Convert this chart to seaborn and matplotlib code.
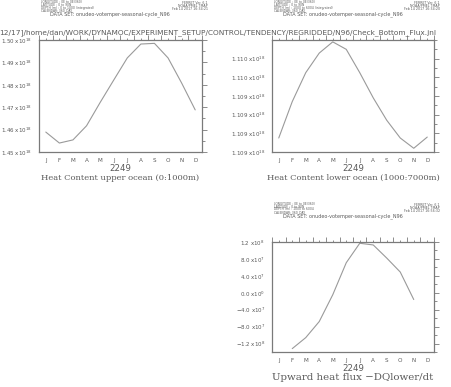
import numpy as np
import pandas as pd
import matplotlib
matplotlib.use("Agg")
import matplotlib.pyplot as plt
import matplotlib.ticker as mticker
import seaborn as sns

# ---------------- data ----------------
months = ["J", "F", "M", "A", "M", "J", "J", "A", "S", "O", "N", "D"]
month_index = list(range(1, 13))
year_label = "2249"

upper_heat = [1.4589e18, 1.4540e18, 1.4554e18, 1.4617e18, 1.4721e18, 1.4821e18,
              1.4920e18, 1.4982e18, 1.4985e18, 1.4920e18, 1.4808e18, 1.4688e18]
lower_heat = [1.10895e18, 1.10934e18, 1.10965e18, 1.10986e18, 1.10998e18, 1.10990e18,
              1.10965e18, 1.10938e18, 1.10914e18, 1.10895e18, 1.10884e18, 1.10896e18]
upward_flux = [np.nan, -1.32e8, -1.06e8, -6.8e7, -4.7e6, 7.1e7,
               1.17e8, 1.13e8, 8.2e7, 4.9e7, -1.6e7, np.nan]

titles = ["Heat Content upper ocean (0:1000m)",
          "Heat Content lower ocean (1000:7000m)",
          "Upward heat flux \u2212DQlower/dt"]
depth_lines = ["DEPTH (m) : 0 to 1000 (integrated)",
               "DEPTH (m) : 1000 to 6004 (integrated)",
               "DEPTH (m) : 1000 to 6004"]
stamps = ["Feb 14 2017 16:34:21", "Feb 14 2017 16:34:20", "Feb 14 2017 16:56:32"]
path_text = "12/17]/home/dan/WORK/DYNAMOC/EXPERIMENT_SETUP/CONTROL/TENDENCY/REGRIDDED/N96/Check_Bottom_Flux.jnl"
dataset_text = "DATA SET: onudeo-votemper-seasonal-cycle_N96"

# ---------------- style ----------------
sns.set_style("white")
plt.rcParams["font.family"] = ["DejaVu Sans"]
TXT = "#5a5a5a"
SPINE = "#7a7a7a"
LINE = "#9a9a9a"

W, H = 452, 387
fig = plt.figure(figsize=(W / 100, H / 100), dpi=100)


def fmt_factory(dec):
    def f(v, pos):
        if v == 0:
            return r"0.0 x10$^{0}$"
        e = int(np.floor(np.log10(abs(v)) + 1e-9))
        m = v / 10.0 ** e
        s = f"{abs(m):.{dec}f}"
        sign = "\u2212" if v < 0 else ""
        return f"{sign}{s} x10$^{{{e}}}$"
    return f


def make_axes(px_left, px_top, px_right, px_bottom):
    return fig.add_axes([px_left / W, 1 - px_bottom / H,
                         (px_right - px_left) / W, (px_bottom - px_top) / H])


panels = [
    dict(box=(39, 40, 202, 152), vals=upper_heat, ylim=(1.45e18, 1.50e18),
         major=np.arange(1.45, 1.5001, 0.01) * 1e18,
         minor=np.arange(1.445, 1.5001, 0.005) * 1e18, dec=2, tsize=6.0),
    dict(box=(272, 40, 434, 152), vals=lower_heat, ylim=(1.1088e18, 1.1100e18),
         major=np.array([1.1088, 1.1090, 1.1092, 1.1094, 1.1096, 1.1098]) * 1e18,
         minor=np.arange(1.1088, 1.11005, 0.0001) * 1e18, dec=3, tsize=6.0),
    dict(box=(272, 242, 434, 352), vals=upward_flux, ylim=(-1.4e8, 1.2e8),
         major=np.arange(-1.2e8, 1.21e8, 4e7),
         minor=np.arange(-1.4e8, 1.21e8, 2e7), dec=1, tsize=7.4),
]

for i, p in enumerate(panels):
    l, t, r, b = p["box"]
    ax = make_axes(l, t, r, b)
    df = pd.DataFrame({"month": month_index, "value": p["vals"]})
    sns.lineplot(data=df, x="month", y="value", ax=ax, color=LINE, lw=0.8)
    ax.set_xlim(0.5, 12.5)
    ax.set_ylim(*p["ylim"])
    ax.set_xticks(month_index)
    ax.set_xticklabels(months)
    ax.set_xticks(np.arange(0.5, 12.6, 1.0), minor=True)
    ax.yaxis.set_major_locator(mticker.FixedLocator(p["major"]))
    ax.yaxis.set_minor_locator(mticker.FixedLocator(p["minor"]))
    ax.yaxis.set_major_formatter(mticker.FuncFormatter(fmt_factory(p["dec"])))
    ax.set_xlabel(year_label, fontsize=6.2, color=TXT, labelpad=0.5)
    ax.set_ylabel("")
    ax.tick_params(axis="both", which="both", direction="out", colors=SPINE,
                   labelcolor=TXT, top=True, right=True, width=0.6)
    ax.tick_params(axis="x", which="major", length=1.8, labelsize=4.1, pad=2.5)
    ax.tick_params(axis="x", which="minor", length=3.5)
    ax.tick_params(axis="y", which="major", length=3.5, labelsize=4.0, pad=1.5)
    ax.tick_params(axis="y", which="minor", length=2.0)
    for sp in ax.spines.values():
        sp.set_color(SPINE)
        sp.set_linewidth(0.9)
    ax.grid(False)

    # title below the axes
    fig.text(((l + r) / 2) / W, 1 - (b + 26) / H, titles[i], ha="center", va="center",
             fontsize=p["tsize"], color=TXT, family="DejaVu Serif")

    # Ferret header block
    hx = (l + 2) / W
    for k, s in enumerate(["LONGITUDE : 0E to 0E(360)", "LATITUDE : 0 to 90N", depth_lines[i]]):
        fig.text(hx, 1 - (t - 38.3 + 2.9 * k) / H, s, ha="left", va="center",
                 fontsize=2.2, color=TXT)
    fig.text(hx, 1 - (t - 29.6) / H, "CALENDAR: 360_DAY", ha="left", va="center",
             fontsize=2.2, color=TXT)
    fig.text((l + 11) / W, 1 - (t - 25.6) / H, dataset_text, ha="left", va="center",
             fontsize=3.5, color=TXT)
    rx = (r + 6) / W
    for k, s in enumerate(["FERRET Ver. 6.1", "NOAA/PMEL TMAP", stamps[i]]):
        fig.text(rx, 1 - (t - 37 + 3 * k) / H, s, ha="right", va="center",
                 fontsize=2.3, color=TXT)

# path line across the top
fig.text(-1 / W, 1 - 33 / H, path_text, ha="left", va="center", fontsize=5.35, color=TXT)

fig.savefig("out.png", dpi=100, facecolor="white")
